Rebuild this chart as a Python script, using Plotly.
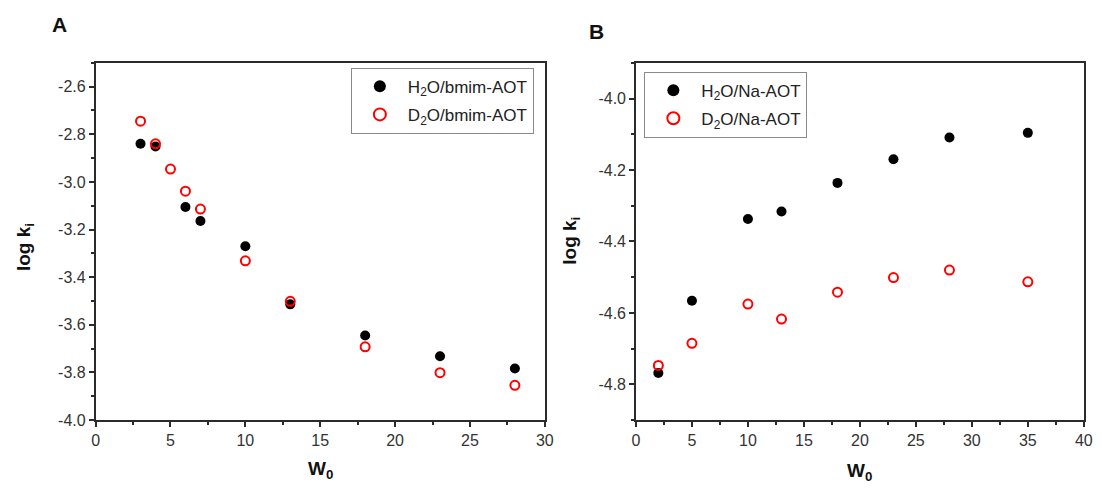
import plotly.graph_objects as go

# Panel A: bmim-AOT reverse micelles
w0_a_h2o = [3, 4, 6, 7, 10, 13, 18, 23, 28]
logk_a_h2o = [-2.840, -2.851, -3.105, -3.164, -3.270, -3.514, -3.645, -3.732, -3.783]
w0_a_d2o = [3, 4, 5, 6, 7, 10, 13, 18, 23, 28]
logk_a_d2o = [-2.745, -2.840, -2.946, -3.039, -3.114, -3.331, -3.501, -3.692, -3.801, -3.854]

# Panel B: Na-AOT reverse micelles
w0_b = [2, 5, 10, 13, 18, 23, 28, 35]
logk_b_h2o = [-4.768, -4.566, -4.337, -4.316, -4.236, -4.170, -4.109, -4.096]
logk_b_d2o = [-4.747, -4.685, -4.575, -4.617, -4.542, -4.501, -4.480, -4.513]

# Tick positions and labels (plain hyphen for the minus sign)
yticks_a = [-4.0, -3.8, -3.6, -3.4, -3.2, -3.0, -2.8, -2.6]
ylabels_a = ["-4.0", "-3.8", "-3.6", "-3.4", "-3.2", "-3.0", "-2.8", "-2.6"]
yticks_b = [-4.8, -4.6, -4.4, -4.2, -4.0]
ylabels_b = ["-4.8", "-4.6", "-4.4", "-4.2", "-4.0"]

W, H = 1102, 490
FONT = "Liberation Sans, Arial, sans-serif"
AX = "#2b2b2b"


def px(x):
    return x / W


def py(y):
    return 1 - y / H


filled = dict(symbol="circle", size=10, color="black", line=dict(width=0))
hollow = dict(symbol="circle-open", size=9, color="#ff0000", line=dict(width=2, color="#ff0000"))

fig = go.Figure()
fig.add_trace(go.Scatter(x=w0_a_h2o, y=logk_a_h2o, mode="markers", marker=filled,
                         name="H<sub>2</sub>O/bmim-AOT", xaxis="x", yaxis="y",
                         legend="legend", legendgroup="a1"))
fig.add_trace(go.Scatter(x=w0_a_d2o, y=logk_a_d2o, mode="markers", marker=hollow,
                         name="D<sub>2</sub>O/bmim-AOT", xaxis="x", yaxis="y",
                         legend="legend", legendgroup="a2"))
fig.add_trace(go.Scatter(x=w0_b, y=logk_b_h2o, mode="markers", marker=filled,
                         name="H<sub>2</sub>O/Na-AOT", xaxis="x2", yaxis="y2",
                         legend="legend2", legendgroup="b1"))
fig.add_trace(go.Scatter(x=w0_b, y=logk_b_d2o, mode="markers", marker=hollow,
                         name="D<sub>2</sub>O/Na-AOT", xaxis="x2", yaxis="y2",
                         legend="legend2", legendgroup="b2"))

tickfont = dict(family=FONT, size=16, color="#333")


def xaxis(domain, rng, anchor):
    return dict(domain=domain, range=rng, anchor=anchor, dtick=5, tick0=0,
                showgrid=False, zeroline=False, showline=True, linecolor=AX, linewidth=1.5,
                mirror=True, ticks="outside", ticklen=5, tickwidth=1.5, tickcolor=AX,
                minor=dict(ticks="outside", ticklen=3, tickwidth=1.5, tickcolor=AX, dtick=2.5, tick0=0),
                tickfont=tickfont)


def yaxis(domain, rng, anchor, tickvals, ticktext):
    return dict(domain=domain, range=rng, anchor=anchor, tickmode="array",
                tickvals=tickvals, ticktext=ticktext, showgrid=False, zeroline=False,
                showline=True, linecolor=AX, linewidth=1.5, mirror=True, ticks="outside",
                ticklen=5, tickwidth=1.5, tickcolor=AX,
                minor=dict(ticks="outside", ticklen=3, tickwidth=1.5, tickcolor=AX,
                           tickmode="linear", dtick=0.1, tick0=0),
                tickfont=tickfont)


yd = [py(428), py(64)]
legend_style = dict(bgcolor="white", bordercolor="#8a8a8a", borderwidth=1,
                    font=dict(family=FONT, size=17, color="#222"),
                    xanchor="left", yanchor="top", itemsizing="constant",
                    tracegroupgap=3, itemwidth=46)

fig.update_layout(
    width=W, height=H, margin=dict(l=0, r=0, t=0, b=0),
    paper_bgcolor="white", plot_bgcolor="white",
    xaxis=xaxis([px(92.7), px(547.3)], [0, 30], "y"),
    yaxis=yaxis(yd, [-4.0, -2.5], "x", yticks_a, ylabels_a),
    xaxis2=xaxis([px(639.5), px(1092.7)], [0, 40], "y2"),
    yaxis2=yaxis(yd, [-4.9, -3.9], "x2", yticks_b, ylabels_b),
    legend=dict(x=px(351), y=py(69), **legend_style),
    legend2=dict(x=px(648), y=py(73), **legend_style),
    showlegend=True,
)

title_font = dict(family=FONT, size=19, color="#111")
letter_font = dict(family=FONT, size=21, color="#111")
annotations = [
    dict(text="<b>A</b>", x=px(56), y=py(25), font=letter_font),
    dict(text="<b>B</b>", x=px(600), y=py(32), font=letter_font),
    dict(text="<b>W<sub>0</sub></b>", x=px(320), y=py(479), font=title_font),
    dict(text="<b>W<sub>0</sub></b>", x=px(866), y=py(481), font=title_font),
    dict(text="<b>log k<sub>i</sub></b>", x=px(22), y=py(252), textangle=-90, font=title_font),
    dict(text="<b>log k<sub>i</sub></b>", x=px(573), y=py(245), textangle=-90, font=title_font),
]
for a in annotations:
    a.update(xref="paper", yref="paper", showarrow=False, xanchor="center", yanchor="middle")
fig.update_layout(annotations=annotations)

fig.write_html("out.html")
